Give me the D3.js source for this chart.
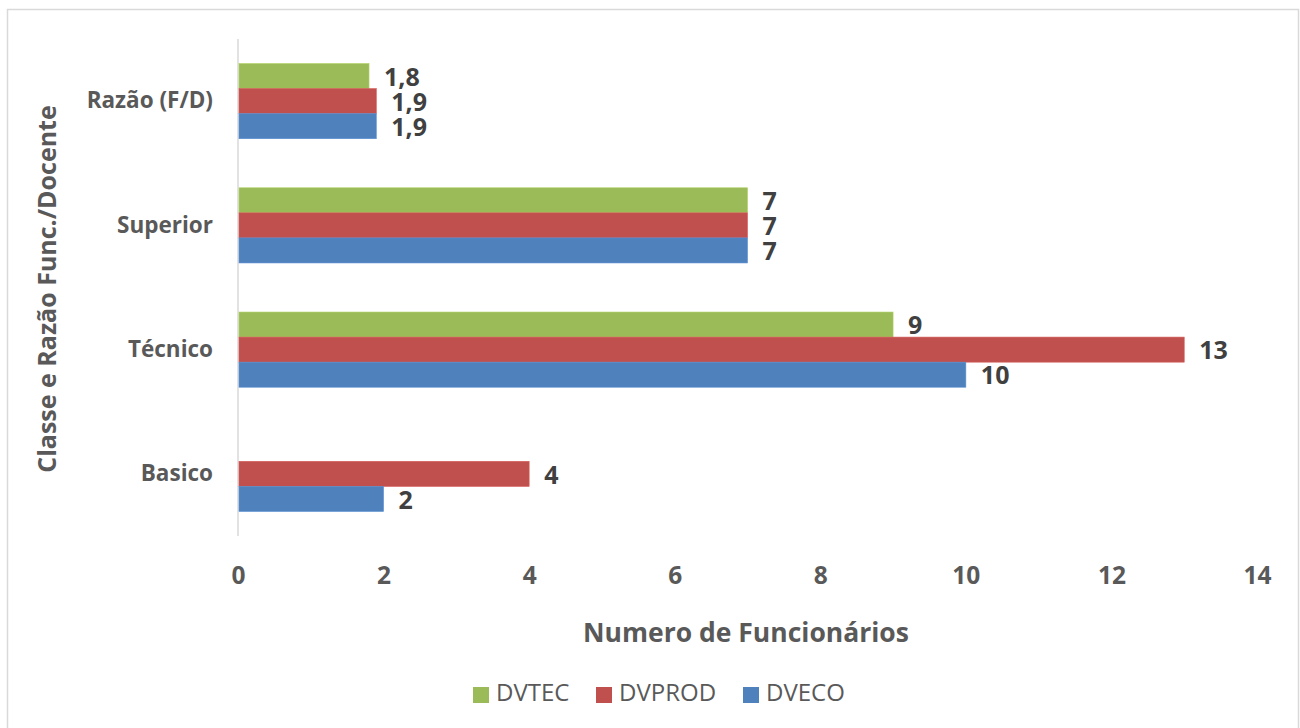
<!DOCTYPE html>
<html><head><meta charset="utf-8">
<script src="https://cdn.jsdelivr.net/npm/d3@7/dist/d3.min.js"></script>
<style>body{margin:0;background:#fff;} svg{display:block;font-family:"Open Sans", sans-serif;}</style>
</head><body>
<svg id="c" width="1300" height="728"></svg>
<script>
const categories = ["Razão (F/D)", "Superior", "Técnico", "Basico"];
const seriesNames = ["DVTEC", "DVPROD", "DVECO"];
const DVTEC = [1.8, 7, 9, null];
const DVPROD = [1.9, 7, 13, 4];
const DVECO = [1.9, 7, 10, 2];
const xTicks = [0, 2, 4, 6, 8, 10, 12, 14];
const colors = ["#9BBB59", "#C0504D", "#4F81BD"];
const seriesValues = [DVTEC, DVPROD, DVECO];

(function(){
const svg = d3.select("#c");
svg.append("rect").attr("x", 7.5).attr("y", 9.5).attr("width", 1291).attr("height", 730)
  .attr("fill", "#fff").attr("stroke", "#d9d9d9").attr("stroke-width", 1.5);

const pLeft = 238, pRight = 1257, pTop = 39, pBottom = 536;
const x = d3.scaleLinear().domain([0, 14]).range([pLeft, pRight]);
const y = d3.scaleBand().domain(categories).range([pTop, pBottom]).paddingInner(0.395).paddingOuter(0.1975);
const ys = d3.scaleBand().domain(seriesNames).range([0, y.bandwidth()]);

svg.append("line").attr("x1", pLeft).attr("x2", pLeft).attr("y1", pTop).attr("y2", pBottom)
  .attr("stroke", "#d9d9d9").attr("stroke-width", 1.5);

const g = svg.append("g");
seriesNames.forEach((s, si) => {
  categories.forEach((c, ci) => {
    const v = seriesValues[si][ci];
    if (v == null) return;
    const by = y(c) + ys(s);
    g.append("rect").attr("x", x(0) + 1).attr("y", by).attr("width", x(v) - x(0) - 1)
      .attr("height", ys.bandwidth()).attr("fill", colors[si])
      .attr("stroke", d3.color(colors[si]).brighter(0.3)).attr("stroke-width", 0.6);
    g.append("text").attr("x", x(v) + 15).attr("y", by + ys.bandwidth() / 2 + 3)
      .attr("dominant-baseline", "middle").attr("font-size", 25).attr("font-weight", 700)
      .attr("fill", "#404040").text(String(v).replace(".", ","));
  });
});

const yAxis = d3.axisLeft(y).tickSize(0).tickPadding(25);
const ya = svg.append("g").attr("transform", `translate(${pLeft},0)`).call(yAxis);
ya.select(".domain").remove();
ya.selectAll("text").attr("font-size", 22.5).attr("font-weight", 700).attr("fill", "#595959")
  .attr("font-family", "'Open Sans', sans-serif");

const xAxis = d3.axisBottom(x).tickValues(xTicks).tickSize(0).tickPadding(0).tickFormat(d3.format("d"));
const xa = svg.append("g").attr("transform", `translate(0,575)`).call(xAxis);
xa.select(".domain").remove();
xa.selectAll("text").attr("font-size", 24.5).attr("font-weight", 700).attr("fill", "#595959")
  .attr("font-family", "'Open Sans', sans-serif").attr("dy", "0.35em").attr("y", 0);

svg.append("text").attr("x", 746).attr("y", 635).attr("text-anchor", "middle").attr("dominant-baseline", "middle")
  .attr("font-size", 26.5).attr("font-weight", 700).attr("fill", "#595959").text("Numero de Funcionários");
svg.append("text").attr("transform", "translate(49,289) rotate(-90)").attr("text-anchor", "middle")
  .attr("dominant-baseline", "middle").attr("font-size", 25).attr("font-weight", 700).attr("fill", "#595959")
  .text("Classe e Razão Func./Docente");

const legX = [473, 596, 743];
seriesNames.forEach((s, i) => {
  svg.append("rect").attr("x", legX[i]).attr("y", 687).attr("width", 16).attr("height", 16).attr("fill", colors[i]);
  svg.append("text").attr("x", legX[i] + 23).attr("y", 695).attr("dominant-baseline", "middle")
    .attr("font-size", 24).attr("fill", "#595959").text(s);
});
})();
</script>
</body></html>
